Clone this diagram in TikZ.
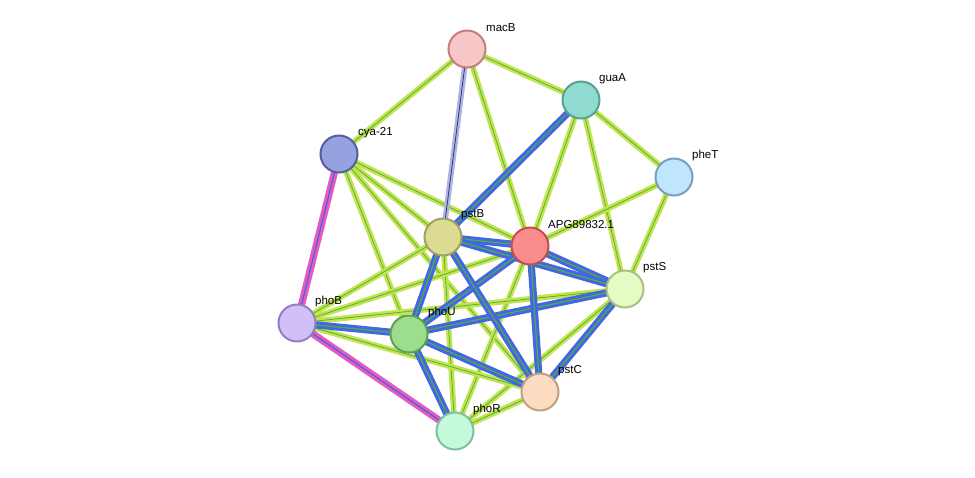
\documentclass[tikz,border=0pt]{standalone}
\usepackage{fontspec}
\setmainfont{Liberation Sans}
\begin{document}
\begin{tikzpicture}[x=1pt,y=-1pt,
 nd/.style={circle,minimum size=37pt,inner sep=0pt,line width=2pt},
 lb/.style={anchor=west,font=\fontsize{11.5}{12}\selectfont,inner sep=0pt},
 e/.style={line width=2.4pt,draw={rgb,255:red,200;green,225;blue,80},double={rgb,255:red,60;green,190;blue,60},double distance=0.8pt},
 eb/.style={line width=3pt,draw={rgb,255:red,70;green,100;blue,230},double={rgb,255:red,70;green,180;blue,60},double distance=1.2pt},
 ep/.style={line width=3pt,draw={rgb,255:red,230;green,90;blue,190},double={rgb,255:red,70;green,100;blue,230},double distance=1.2pt},
 el/.style={line width=2.4pt,draw={rgb,255:red,170;green,180;blue,240},double={rgb,255:red,60;green,60;blue,60},double distance=0.8pt}]
\useasboundingbox (0,0) rectangle (975,477);
\fill[white] (0,0) rectangle (975,477);
\coordinate (macB) at (467,49);
\coordinate (guaA) at (581,100);
\coordinate (pheT) at (674,177);
\coordinate (cya) at (339,154);
\coordinate (pstB) at (443,237);
\coordinate (APG) at (530,246);
\coordinate (pstS) at (625,289);
\coordinate (phoB) at (297,323);
\coordinate (phoU) at (409,334);
\coordinate (pstC) at (540,392);
\coordinate (phoR) at (455,431);
% edges
\foreach \a/\b in {macB/guaA,macB/cya,macB/APG,guaA/pheT,guaA/APG,guaA/pstS,pheT/APG,pheT/pstS,
 cya/phoU,cya/APG,cya/pstC,cya/pstB,pstB/phoR,APG/phoR,pstS/phoR,pstS/phoB,pstB/phoB,APG/phoB,
 phoB/phoU,phoB/pstC,phoU/phoR,pstC/phoR,phoU/pstC,pstB/pstC,APG/pstC}
 \draw[e] (\a) -- (\b);
\draw[el] (macB) -- (pstB);
\draw[ep] (cya) -- (phoB);
\draw[eb] (guaA) -- (pstB);
\foreach \a/\b in {pstB/APG,APG/pstS,pstB/pstS,APG/phoU,pstS/phoU,pstB/phoU,pstS/pstC,APG/pstC,pstB/pstC,phoB/phoU,phoU/pstC,phoU/phoR}
 \draw[eb] (\a) -- (\b);
\draw[ep] (phoB) -- (phoR);
% nodes
\node[nd,fill={rgb,255:red,247;green,198;blue,198},draw={rgb,255:red,192;green,128;blue,128}] (nmacB) at (macB) {};
\node[nd,fill={rgb,255:red,143;green,219;blue,208},draw={rgb,255:red,90;green,160;blue,145}] (nguaA) at (guaA) {};
\node[nd,fill={rgb,255:red,191;green,230;blue,250},draw={rgb,255:red,120;green,160;blue,190}] (npheT) at (pheT) {};
\node[nd,fill={rgb,255:red,150;green,162;blue,224},draw={rgb,255:red,85;green,95;blue,160}] (ncya) at (cya) {};
\node[nd,fill={rgb,255:red,220;green,219;blue,146},draw={rgb,255:red,160;green,160;blue,96}] (npstB) at (pstB) {};
\node[nd,fill={rgb,255:red,251;green,140;blue,140},draw={rgb,255:red,192;green,80;blue,80}] (nAPG) at (APG) {};
\node[nd,fill={rgb,255:red,230;green,251;blue,196},draw={rgb,255:red,168;green,192;blue,128}] (npstS) at (pstS) {};
\node[nd,fill={rgb,255:red,209;green,191;blue,247},draw={rgb,255:red,144;green,128;blue,192}] (nphoB) at (phoB) {};
\node[nd,fill={rgb,255:red,156;green,222;blue,142},draw={rgb,255:red,96;green,160;blue,80}] (nphoU) at (phoU) {};
\node[nd,fill={rgb,255:red,252;green,220;blue,192},draw={rgb,255:red,192;green,160;blue,128}] (npstC) at (pstC) {};
\node[nd,fill={rgb,255:red,196;green,249;blue,218},draw={rgb,255:red,128;green,192;blue,160}] (nphoR) at (phoR) {};
% labels
\node[lb] (tmacB) at (486,28) {macB};
\node[lb] (tguaA) at (599,79) {guaA};
\node[lb] (tpheT) at (692,156) {pheT};
\node[lb] (tcya) at (358,133) {cya-21};
\node[lb] (tpstB) at (461,215) {pstB};
\node[lb] (tAPG) at (548,225) {APG89832.1};
\node[lb] (tpstS) at (643,268) {pstS};
\node[lb] (tphoB) at (315,302) {phoB};
\node[lb] (tphoU) at (428,313) {phoU};
\node[lb] (tpstC) at (558,371) {pstC};
\node[lb] (tphoR) at (473,410) {phoR};
\end{tikzpicture}
\end{document}
